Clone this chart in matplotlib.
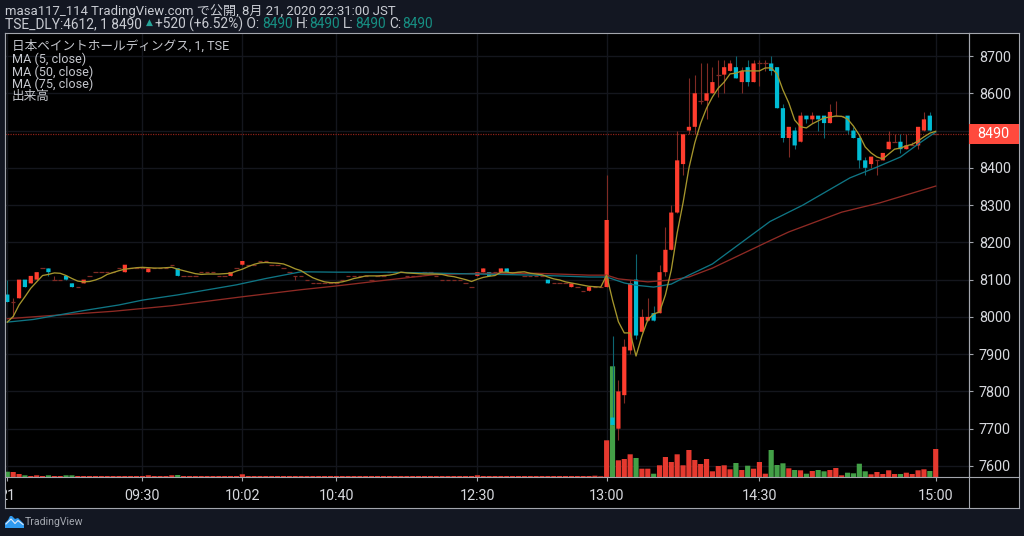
import matplotlib
matplotlib.use("Agg")
import matplotlib.pyplot as plt
from matplotlib.patches import Polygon, Rectangle
from matplotlib.lines import Line2D
from matplotlib.transforms import Bbox

FONT = ['Roboto', 'Noto Sans CJK JP', 'DejaVu Sans']
plt.rcParams['font.family'] = FONT

# ---------- data ----------
opens = [8060,8040,8050,8100,8090,8100,8130,8130,8100,8100,
 8110,8090,8080,8090,8110,8120,8120,8120,8120,8130,
 8120,8130,8130,8130,8120,8130,8130,8130,8140,8130,
 8110,8110,8110,8120,8120,8120,8110,8110,8110,8130,
 8140,8140,8140,8150,8150,8140,8140,8130,8120,8110,
 8110,8100,8090,8090,8090,8090,8090,8100,8110,8110,
 8110,8110,8100,8110,8110,8120,8120,8120,8110,8110,
 8110,8120,8120,8110,8100,8100,8100,8100,8090,8080,
 8110,8120,8120,8120,8120,8130,8120,8120,8110,8110,
 8110,8110,8100,8090,8090,8090,8080,8080,8070,8070,
 8080,8080,
 8080,7730,7700,7790,7910,8100,7960,7990,8010,8010,8120,8180,8280,8410,8500,8510,
 8580,8580,8600,8650,8650,8660,8670,8630,8670,8630,8680,8680,8680,8670,8560,8480,
 8500,8470,8540,8530,8540,8540,8520,8540,8540,8540,8500,8480,8420,8410,8420,8420,
 8450,8470,8470,8450,8460,8460,8500,8540,8490]
closes = [8040,8040,8100,8080,8110,8120,8130,8120,8100,8100,
 8100,8080,8080,8100,8110,8120,8120,8120,8120,8130,
 8140,8130,8130,8130,8130,8130,8130,8130,8140,8110,
 8110,8110,8110,8120,8120,8120,8110,8110,8120,8130,
 8150,8140,8140,8150,8150,8140,8140,8130,8120,8110,
 8110,8100,8090,8090,8090,8090,8090,8100,8110,8110,
 8110,8110,8100,8110,8110,8120,8120,8120,8110,8110,
 8110,8120,8120,8110,8100,8100,8100,8100,8090,8080,
 8120,8130,8110,8120,8130,8120,8120,8120,8110,8110,
 8110,8110,8090,8090,8090,8090,8090,8080,8070,8080,
 8080,8080,
 8260,7710,7800,7920,8090,7950,8000,8000,7990,8120,8180,8280,8420,8490,8510,8600,
 8580,8600,8630,8650,8670,8680,8640,8660,8630,8680,8680,8680,8660,8560,8480,8510,
 8460,8540,8530,8540,8530,8520,8550,8540,8540,8500,8480,8420,8400,8430,8420,8440,
 8470,8470,8450,8460,8460,8510,8530,8500,8490]
highs = {0:8100,1:8050,8:8110,49:8110,
 102:8380,103:7950,104:7830,105:7940,106:8100,107:8170,108:8020,109:8050,110:8030,111:8140,
 112:8240,113:8300,114:8500,116:8640,117:8650,118:8680,119:8680,120:8670,121:8690,122:8690,
 123:8690,124:8700,125:8670,126:8690,127:8690,128:8690,129:8690,130:8700,132:8570,133:8510,
 134:8510,135:8550,137:8550,140:8570,141:8580,144:8510,145:8490,146:8430,150:8500,151:8490,
 152:8490,153:8490,154:8470,156:8550,157:8550}
lows = {1:8000,7:8110,49:8100,
 104:7670,105:7770,106:7900,107:7940,112:8110,115:8380,116:8490,117:8490,118:8570,119:8530,
 121:8590,122:8600,125:8600,126:8620,128:8620,129:8660,130:8650,132:8470,133:8430,134:8450,
 136:8520,137:8520,138:8500,139:8480,143:8490,145:8400,146:8380,147:8400,148:8380,152:8440,
 155:8450}

ma5 = [7986,8001,8032,8054,8077,8094,8111,8114,8118,8117,
 8111,8103,8096,8094,8095,8099,8105,8114,8119,8124,
 8128,8130,8132,8133,8132,8131,8131,8132,8133,8128,
 8124,8120,8116,8114,8115,8115,8115,8116,8117,8123,
 8128,8135,8141,8145,8146,8145,8144,8142,8136,8129,
 8124,8114,8105,8099,8094,8092,8092,8094,8098,8103,
 8106,8110,8110,8110,8111,8112,8115,8120,8118,8117,
 8116,8115,8115,8115,8114,8110,8108,8104,8100,8095,
 8101,8106,8109,8111,8120,8120,8118,8120,8121,8117,
 8115,8113,8107,8102,8099,8094,8091,8088,8085,8082,
 8081,8080,8112,8045,7987,7957,7957,7895,7949,7992,
 8008,8013,8059,8126,8225,8306,8399,8467,8520,8560,
 8590,8614,8630,8652,8654,8660,8660,8660,8660,8668,
 8668,8652,8609,8574,8528,8510,8507,8518,8526,8534,
 8536,8539,8538,8531,8512,8488,8456,8440,8429,8424,
 8437,8450,8453,8459,8463,8472,8483,8493,8498]
ma50_i = [0,4.4,13,19,23,29,39,44,50,56,65,74,80,90,99,102,105,107,110,113,116,120,125.5,129.8,135.4,143.4,148,152,155.3,158]
ma50_p = [7986,7993,8017,8032,8045,8059,8086,8103,8121,8120,8120,8117,8115,8112,8107,8107,8091,8085,8080,8088,8112,8142,8206,8256,8300,8373,8402,8429,8467,8496]
ma75_i = [0,6,18,28,40,50,56,63,72.5,80,90,99,102,104,109,113,116,120,130,133,142,148.5,158]
ma75_p = [7995,8002,8015,8030,8054,8073,8083,8096,8113,8117,8117,8112,8112,8102,8094,8099,8107,8131,8206,8228,8281,8306,8351]

volume = [530,500,300,170,100,170,100,170,100,100,170,170,100,100,100,100,100,100,100,100,
 100,100,100,100,170,100,100,100,170,200,100,100,100,100,100,100,100,100,100,100,
 270,100,100,100,100,100,100,100,100,100,100,100,100,100,100,100,100,100,100,100,
 100,100,100,100,100,100,100,100,100,100,100,100,100,100,100,100,100,100,100,100,
 170,100,100,100,100,100,100,100,100,100,100,100,100,100,100,100,100,100,100,100,
 130,70,3670,11070,1670,1800,2270,1900,830,830,330,1170,2000,1500,2270,1170,2700,1700,1300,1800,
 570,1100,1170,770,1400,700,1130,830,1500,330,2700,1200,1370,870,700,670,330,600,700,570,
 700,900,170,430,370,1330,570,270,500,300,670,300,300,430,300,670,770,600,2800]
green_bars = [0,3,7,10,11,29,103,107,110,124,126,130,131,132,134,136,138,139,143,144,145,146,152,157]

price_ticks = [7600,7700,7800,7900,8000,8100,8200,8300,8400,8500,8600,8700]
price_labels = ['7600','7700','7800','7900','8000','8100','8200','8300','8400','','8600','8700']
time_ticks = [0,23,40,56,80,102,128,158]
time_labels = ['21','09:30','10:02','10:40','12:30','13:00','14:30','15:00']
last_price = 8490

# ---------- colours ----------
BG = '#131722'; FG = '#d6d8dd'; AXC = '#a3a6ad'; GRID = '#14161d'
UP = '#ff3d2e'; DN = '#00bcd4'; UPW = '#7f2a24'; DNW = '#0d6672'
VUP = '#e5392f'; VDN = '#43a047'

W, H = 1024, 536
fig = plt.figure(figsize=(W/100, H/100), dpi=100, facecolor=BG)
L, R, T, B = 5, 968.5, 33, 477
pos = [L/W, 1-B/H, (R-L)/W, (B-T)/H]

axg = fig.add_axes(pos, facecolor='black', zorder=0.5)
axv = fig.add_axes(pos, facecolor='none', zorder=1)
ax = fig.add_axes(pos, facecolor='none', zorder=2)
x0, dx = 7.3, 5.876
xlim = ((L-x0)/dx, (R-x0)/dx)
ylim = (8700-(B-56)/0.3727, 8700+(56-T)/0.3727)
ax.set_xlim(*xlim); ax.set_ylim(*ylim)
axg.set_xlim(*xlim); axg.set_ylim(*ylim)
axv.set_xlim(*xlim); axv.set_ylim(0, (B-T)*100)
axv.set_xticks([]); axv.set_yticks([])
for a in (axv, axg):
    for s in a.spines.values():
        s.set_visible(False)

# grid lives behind the volume bars
axg.set_xticks(time_ticks); axg.set_yticks(price_ticks)
axg.tick_params(length=0, labelbottom=False, labelleft=False)
axg.grid(True, color=GRID, lw=1.0)

# volume
n = len(closes)
xs = list(range(n))
vbars = axv.bar(xs, volume, width=0.88, linewidth=0,
                color=[VDN if i in green_bars else VUP for i in xs])
for p in vbars:
    p.set_snap(False)

ax.set_xticks(time_ticks); ax.set_xticklabels(time_labels)
ax.yaxis.tick_right(); ax.set_yticks(price_ticks); ax.set_yticklabels(price_labels)
ax.tick_params(axis='x', colors=AXC, labelcolor=FG, labelsize=10.4, length=3, width=0.8, pad=6)
ax.tick_params(axis='y', colors=AXC, labelcolor=FG, labelsize=10.4, length=3, width=0.8, pad=4.5)
for s in ['top', 'left', 'right', 'bottom']:
    ax.spines[s].set_color(AXC); ax.spines[s].set_linewidth(0.8)

# last price line
ax.axhline(last_price, color='#8c2019', lw=0.9, ls=(0, (1, 1)), zorder=1.5)

# candles
for i in xs:
    o, c = opens[i], closes[i]
    top, bot = max(o, c), min(o, c)
    hi, lo = highs.get(i, top), lows.get(i, bot)
    up = c >= o
    if hi > lo:
        ax.vlines(i, lo, hi, color=UPW if up else DNW, lw=0.8, zorder=2)
    if o == c:
        ax.hlines(c, i-0.38, i+0.38, color=UPW, lw=0.9, zorder=2.2)
    else:
        b = ax.bar(i, top-bot, bottom=bot, width=0.72, color=UP if up else DN, lw=0, zorder=2.4)
        b[0].set_snap(False)

# moving averages
ax.plot(ma75_i, ma75_p, color='#8e2a24', lw=0.95, zorder=3)
ax.plot(ma50_i, ma50_p, color='#0f7584', lw=0.95, zorder=3.1)
ax.plot(xs, ma5, color='#a5952c', lw=0.95, zorder=3.2)

def T_(x, y, s, **kw):
    kw.setdefault('fontsize', 10); kw.setdefault('color', FG)
    kw.setdefault('va', 'center'); kw.setdefault('ha', 'left')
    return fig.text(x/W, 1-y/H, s, **kw)

# first time label is cut by the pane's left edge
fig.canvas.draw()
for lab in ax.get_xticklabels():
    lab.set_clip_box(Bbox([[L+1, 0], [W, H]]))
    lab.set_clip_on(True)

# header
HC = '#c9ccd3'
T_(5, 11, 'masa117_114 TradingView.com で公開, 8月 21, 2020 22:31:00 JST', color=HC, fontsize=9.45)
T_(5, 24, 'TSE_DLY:4612, 1 8490', color=HC, fontsize=9.9)
T_(145.5, 22.5, '▲', color='#26a69a', fontsize=6.5, family=['DejaVu Sans'])
T_(155, 24, '+520 (+6.52%) O:', color=HC, fontsize=9.9)
TEAL = '#178f83'
for x, s, c in [(262, '8490', TEAL), (296, 'H:', HC), (309, '8490', TEAL), (343, 'L:', HC),
                (355, '8490', TEAL), (389, 'C:', HC), (402, '8490', TEAL)]:
    T_(x, 24, s, color=c, fontsize=9.9)

# legend
for y, s in [(46.5, '日本ペイントホールディングス, 1, TSE'), (59, 'MA (5, close)'), (72, 'MA (50, close)'),
             (84, 'MA (75, close)'), (96.5, '出来高')]:
    T_(12, y, s, fontsize=9.1, color='#c4c6cc')

# outer frame and right axis
fig.add_artist(Rectangle((R/W, 1-508/H), (1018.7-R)/W, (508-T)/H, transform=fig.transFigure,
                         facecolor='black', edgecolor='none', zorder=0))
fig.add_artist(Rectangle((L/W, 1-508/H), (R-L)/W, 31/H, transform=fig.transFigure,
                         facecolor='black', edgecolor='none', zorder=0))
for xa, ya, xb, yb in [(L, 508, 1018.7, 508), (1018.7, T, 1018.7, 508), (R, T, 1018.7, T), (L, T, L, 508), (R, T, R, 508), (R, B, 1018.7, B)]:
    fig.add_artist(Line2D([xa/W, xb/W], [1-ya/H, 1-yb/H], color=AXC, lw=0.8, transform=fig.transFigure, zorder=5))

# price label
ypx = 56 + (8700-last_price)*0.3727
fig.add_artist(Rectangle((R/W, 1-(ypx+10)/H), 50.2/W, 20/H, transform=fig.transFigure,
                         facecolor='#ff4a3d', edgecolor='none', zorder=6))
T_(993, ypx, str(last_price), color='white', fontsize=10.4, ha='center', zorder=7)

# logo
def P(pts, c):
    fig.add_artist(Polygon([(x/W, 1-y/H) for x, y in pts], closed=True, transform=fig.transFigure,
                           facecolor=c, edgecolor='none', zorder=6))
P([(5,528),(5,523),(8,520),(10,516),(12,516),(15,519),(18,518),(21,521),(24,524),(24,528)], '#2f9bf0')
fig.add_artist(Line2D([6/W, 11/W, 15/W, 18/W, 23/W], [1-524/H, 1-519/H, 1-523.5/H, 1-520.5/H, 1-524.5/H],
                      color='#dfe8f5', lw=0.8, transform=fig.transFigure, zorder=7))
T_(25, 522, 'TradingView', color='#a4a8b0', fontsize=7.6)

fig.savefig('out.png', dpi=100, facecolor=BG)
